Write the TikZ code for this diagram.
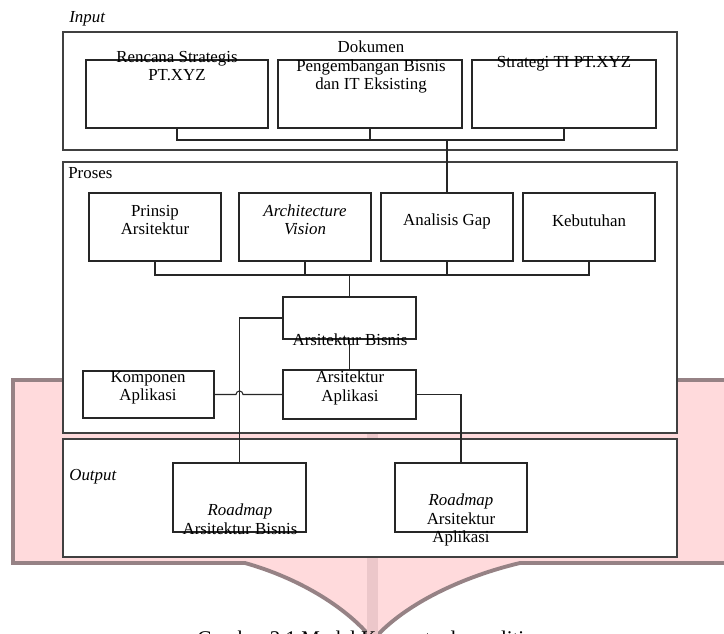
\documentclass[tikz,border=0pt]{standalone}
\usepackage{fontspec}
\setmainfont{Liberation Serif}
\usetikzlibrary{calc}
\definecolor{arrowpink}{RGB}{255,218,220}
\definecolor{arrowedge}{RGB}{150,130,133}
\definecolor{arrowmid}{RGB}{236,199,202}
\tikzset{
  frame/.style={draw=black!75,line width=0.8pt,fill=white,inner sep=0pt},
  box/.style={draw=black!85,line width=0.6pt,fill=white,inner sep=0pt},
  txt/.style={inner sep=0pt,align=center},
  link/.style={draw=black!85,line width=0.6pt}
}

\begin{document}
\begin{tikzpicture}[x=0.02cm,y=-0.02cm,font=\fontsize{9.6}{10.5}\selectfont]
\useasboundingbox (0,0) rectangle (724,633);
\clip (0,0) rectangle (724,633);
% background arrow
\path[fill=arrowpink,draw=arrowedge,line width=2.2pt] (13,380) -- (760,380) -- (760,563) -- (520,563)
  .. controls (465,576) and (405,603) .. (373,640) .. controls (345,605) and (295,577) .. (245,563) -- (13,563) -- cycle;
\fill[arrowmid] (367,382) rectangle (378,640);
\node[anchor=base west,inner sep=0pt,font=\fontsize{11.9}{14}\selectfont] (caption) at (197,645) {Gambar 3.1 Model Konseptual penelitian};

% frames
\node[frame,minimum width=12.28cm,minimum height=2.36cm] (input) at (370,91) {};
\node[frame,minimum width=12.28cm,minimum height=5.42cm] (proses) at (370,297.5) {};
\node[frame,minimum width=12.28cm,minimum height=2.36cm] (output) at (370,498) {};
\node[txt,anchor=west] (inputlbl) at (69,19) {\textit{Input}};
\node[txt,anchor=west] (proseslbl) at (68,173) {Proses};
\node[txt,anchor=west] (outputlbl) at (69,477) {\textit{Output}};

% input
\node[box,minimum width=3.64cm,minimum height=1.36cm] (rencana) at (177,94) {};
\node[box,minimum width=3.68cm,minimum height=1.36cm] (dokumen) at (370,94) {};
\node[box,minimum width=3.68cm,minimum height=1.36cm] (strategi) at (564,94) {};
\node[txt] (rencanatxt) at (177,66) {Rencana Strategis\\PT.XYZ};
\node[txt] (dokumentxt) at (371,67) {Dokumen\\Pengembangan Bisnis\\dan IT Eksisting};
\node[txt] (strategitxt) at (564,64) {Strategi TI PT.XYZ};

% proses
\node[box,minimum width=2.64cm,minimum height=1.36cm] (prinsip) at (155,227) {};
\node[box,minimum width=2.64cm,minimum height=1.36cm] (vision) at (305,227) {};
\node[box,minimum width=2.64cm,minimum height=1.36cm] (gap) at (447,227) {};
\node[box,minimum width=2.64cm,minimum height=1.36cm] (kebutuhan) at (589,227) {};
\node[txt] (prinsiptxt) at (155,220) {Prinsip\\Arsitektur};
\node[txt] (visiontxt) at (305,220) {\textit{Architecture}\\\textit{Vision}};
\node[txt] (gaptxt) at (447,221) {Analisis Gap};
\node[txt] (kebutuhantxt) at (589,221) {Kebutuhan};

\node[box,minimum width=2.66cm,minimum height=0.84cm] (bisnis) at (349.5,318) {};
\node[box,minimum width=2.66cm,minimum height=0.98cm] (aplikasi) at (349.5,394.5) {};
\node[box,minimum width=2.62cm,minimum height=0.94cm] (komponen) at (148.5,394.5) {};
\node[txt] (bisnistxt) at (350,340) {Arsitektur Bisnis};
\node[txt] (aplikasitxt) at (350,388) {Arsitektur\\Aplikasi};
\node[txt] (komponentxt) at (148,388) {Komponen\\Aplikasi};

% output
\node[box,minimum width=2.66cm,minimum height=1.38cm] (rmbisnis) at (239.5,497.5) {};
\node[box,minimum width=2.64cm,minimum height=1.38cm] (rmaplikasi) at (461,497.5) {};
\node[txt] (rmbisnistxt) at (240,519) {\textit{Roadmap}\\Arsitektur Bisnis};
\node[txt] (rmaplikasitxt) at (461,520) {\textit{Roadmap}\\Arsitektur\\Aplikasi};

% connectors
\coordinate (injoin) at (447,140);
\draw[link] (rencana.south) |- (injoin) -| (strategi.south);
\draw[link] (dokumen.south) -- (dokumen.south |- injoin);
\draw[link] (injoin) -- (gap.north);
\coordinate (projoin) at (349.5,275);
\draw[link] (prinsip.south) |- (projoin) -| (kebutuhan.south);
\draw[link] (vision.south) -- (vision.south |- projoin);
\draw[link] (gap.south) -- (gap.south |- projoin);
\draw[link] (projoin) -- (bisnis.north);
\draw[link] (bisnis.south) -- (aplikasi.north);
\draw[link] (bisnis.west) -| (rmbisnis.north);
\draw[link] (aplikasi.east) -| (rmaplikasi.north);
\coordinate (hop) at (rmbisnis.north |- komponen.east);
\draw[link] (komponen.east) -- ($(hop)+(-3.5,0)$) arc (180:360:3.5) -- (aplikasi.west);
\end{tikzpicture}
\end{document}
